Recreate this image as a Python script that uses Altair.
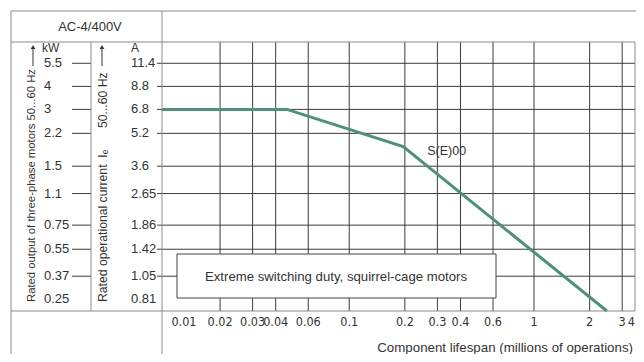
import altair as alt
import pandas as pd

# ---- data ----
x_ticks = [0.01, 0.02, 0.03, 0.04, 0.06, 0.1, 0.2, 0.3, 0.4, 0.6, 1, 2, 3, 4]
x_labels = ["0.01", "0.02", "0.03", "0.04", "0.06", "0.1", "0.2", "0.3", "0.4", "0.6", "1", "2", "3", "4"]
kw_labels = ["5.5", "4", "3", "2.2", "1.5", "1.1", "0.75", "0.55", "0.37", "0.25"]
amp_values = [11.4, 8.8, 6.8, 5.2, 3.6, 2.65, 1.86, 1.42, 1.05, 0.81]
amp_labels = ["11.4", "8.8", "6.8", "5.2", "3.6", "2.65", "1.86", "1.42", "1.05", "0.81"]
life = [0.0097, 0.046, 0.196, 2.48]       # millions of operations
current = [6.8, 6.8, 4.48, 0.711]         # A
series_name = ["S(E)00"]
series_label_pos = [0.337, 4.28]

W, H = 473, 269
FONT = "Liberation Sans, Arial, sans-serif"
FONT_N = "Liberation Sans Narrow, DejaVu Sans Condensed, Liberation Sans, sans-serif"
GRID = "#3c3c3c"
FRAME = "#8a8a8a"
TXT = "#333333"
LINE = "#4f8f7e"

xs = alt.Scale(type="log", domain=[0.0097, 3.52], nice=False, clamp=True)
ys = alt.Scale(type="log", domain=[0.711, 14.47], nice=False)

xdf = pd.DataFrame({"x": x_ticks, "label": x_labels})
ydf = pd.DataFrame({"A": amp_values, "alabel": amp_labels, "kwlabel": kw_labels})
ldf = pd.DataFrame({"life": life, "current": current})
sdf = pd.DataFrame({"life": [series_label_pos[0]], "current": [series_label_pos[1]], "name": series_name})

one = alt.Data(values=[{}])


def hline(y, x1, x2, color=FRAME):
    return alt.Chart(one).mark_rule(color=color, strokeWidth=1).encode(
        y=alt.value(y), x=alt.value(x1), x2=alt.value(x2))


def vline(x, y1, y2, color=FRAME):
    return alt.Chart(one).mark_rule(color=color, strokeWidth=1).encode(
        x=alt.value(x), y=alt.value(y1), y2=alt.value(y2))


def label(text, x, y, size=13, align="center", angle=0, baseline="middle"):
    return alt.Chart(one).mark_text(
        text=text, font=FONT, fontSize=size, color=TXT, align=align,
        baseline=baseline, angle=angle).encode(x=alt.value(x), y=alt.value(y))


# vertical grid lines (first and last ticks are the frame)
vgrid = alt.Chart(xdf).transform_filter("datum.x > 0.01 && datum.x < 4").mark_rule(
    color=GRID, strokeWidth=1).encode(
    x=alt.X("x:Q", scale=xs, axis=None), y=alt.value(0), y2=alt.value(H))

# horizontal grid lines and the small ticks into the label columns
hgrid = alt.Chart(ydf).transform_filter("datum.A > 0.81").mark_rule(
    color=GRID, strokeWidth=1).encode(
    y=alt.Y("A:Q", scale=ys, axis=None), x=alt.value(-5), x2=alt.value(W))
kwticks = alt.Chart(ydf).transform_filter("datum.A > 0.81").mark_rule(
    color=GRID, strokeWidth=1).encode(
    y=alt.Y("A:Q", scale=ys, axis=None), x=alt.value(-90), x2=alt.value(-71))

kwtext = alt.Chart(ydf).mark_text(font=FONT, fontSize=13, color=TXT, align="left",
                                   baseline="middle").encode(
    y=alt.Y("A:Q", scale=ys, axis=None), x=alt.value(-118), text="kwlabel:N")
atext = alt.Chart(ydf).mark_text(font=FONT, fontSize=13, color=TXT, align="left",
                                  baseline="middle").encode(
    y=alt.Y("A:Q", scale=ys, axis=None), x=alt.value(-31), text="alabel:N")

XL_Y = 280
XL_SIZE = 12.5
xtext_first = alt.Chart(xdf).transform_filter("datum.x == 0.01").mark_text(
    font=FONT_N, fontSize=XL_SIZE, color=TXT, align="left", baseline="middle", dx=7).encode(
    x=alt.X("x:Q", scale=xs, axis=None), y=alt.value(XL_Y), text="label:N")
xtext = alt.Chart(xdf).transform_filter("datum.x > 0.01 && datum.x < 4").mark_text(
    font=FONT_N, fontSize=XL_SIZE, color=TXT, align="center", baseline="middle").encode(
    x=alt.X("x:Q", scale=xs, axis=None), y=alt.value(XL_Y), text="label:N")
xtext_last = alt.Chart(xdf).transform_filter("datum.x == 4").mark_text(
    font=FONT_N, fontSize=XL_SIZE, color=TXT, align="right", baseline="middle").encode(
    x=alt.X("x:Q", scale=xs, axis=None), y=alt.value(XL_Y), text="label:N")

box = alt.Chart(one).mark_rect(fill="white", stroke="#444444", strokeWidth=1).encode(
    x=alt.value(15), x2=alt.value(334), y=alt.value(212), y2=alt.value(256))
boxtext = label("Extreme switching duty, squirrel-cage motors", 174, 235, size=13.2)

line = alt.Chart(ldf).mark_line(color=LINE, strokeWidth=3).encode(
    x=alt.X("life:Q", scale=xs, axis=None), y=alt.Y("current:Q", scale=ys, axis=None))
stext = alt.Chart(sdf).mark_text(font=FONT, fontSize=12.5, color=TXT, baseline="middle").encode(
    x=alt.X("life:Q", scale=xs, axis=None), y=alt.Y("current:Q", scale=ys, axis=None),
    text="name:N")

BOTTOM = 312
# table frame
frame = [
    hline(-31, -151, W + 1),
    hline(0, -151, W),
    hline(H, -151, W),
    vline(-151, -31, BOTTOM),
    vline(0, -31, BOTTOM),
    vline(-71, 0, H),
    vline(W, 0, H),
]

titles = [
    label("AC-4/400V", -72, -15, size=13),
    label("kW", -120, 6, size=12, align="left"),
    label("A", -27, 6, size=12),
    label("Rated output of three-phase motors 50...60 Hz", -130, 260, size=11.3,
          align="left", angle=270),
    label("Rated operational current\u00a0 I\u2091", -59, 260, size=12.2,
          align="left", angle=270),
    label("50...60 Hz", -59, 86, size=12.2, align="left", angle=270),
    label("Component lifespan (millions of operations)", 471, 306, size=13.3, align="right"),
]

arrows = [
    vline(-129, 5, 24, color=TXT),
    vline(-60, 5, 24, color=TXT),
    alt.Chart(one).mark_point(shape="triangle-up", filled=True, color=TXT, size=22, opacity=1).encode(
        x=alt.value(-129), y=alt.value(5)),
    alt.Chart(one).mark_point(shape="triangle-up", filled=True, color=TXT, size=22, opacity=1).encode(
        x=alt.value(-60), y=alt.value(5)),
]

chart = alt.layer(
    vgrid, hgrid, kwticks, line, box, boxtext, stext, kwtext, atext,
    xtext_first, xtext, xtext_last, *frame, *titles, *arrows
).properties(
    width=W, height=H,
    autosize=alt.AutoSizeParams(type="none"),
    padding={"left": 154, "top": 34, "right": 1, "bottom": 43},
).configure_view(stroke=None)

chart.save("out.html", embed_options={"renderer": "svg", "actions": False})
